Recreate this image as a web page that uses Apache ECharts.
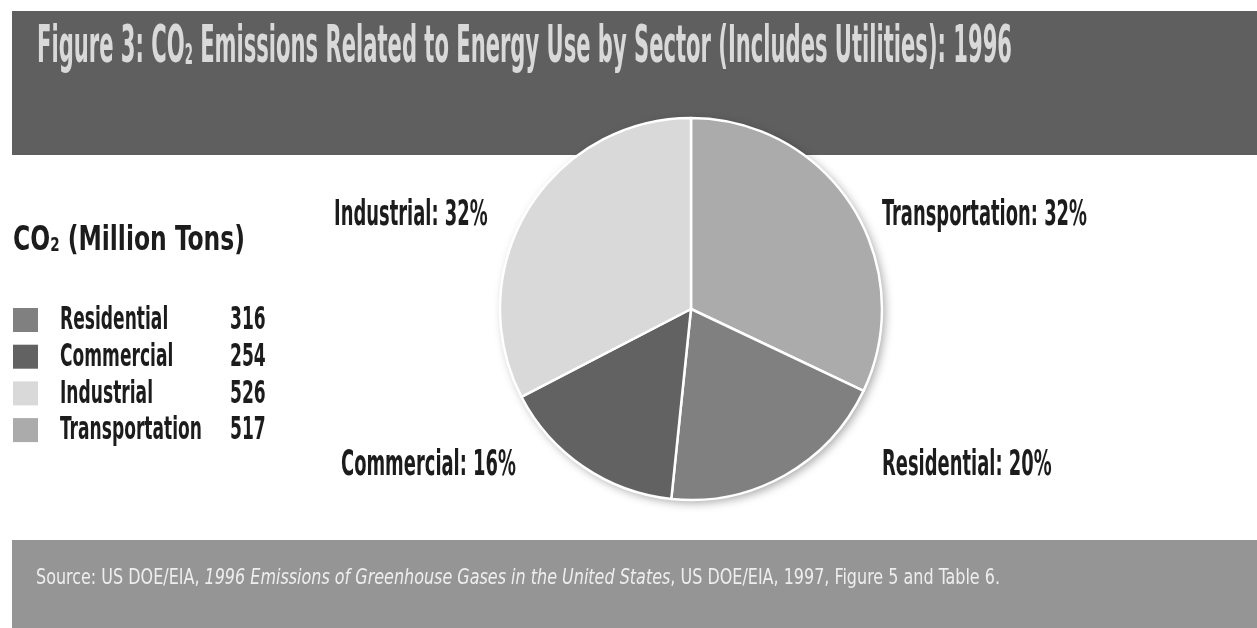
<!DOCTYPE html>
<html>
<head>
<meta charset="utf-8">
<title>CO2 Emissions by Sector, 1996</title>
<script src="https://cdn.jsdelivr.net/npm/echarts@6/dist/echarts.min.js"></script>
<style>
  html, body { margin: 0; padding: 0; background: #ffffff; }
  #chart { width: 1257px; height: 628px; }
</style>
</head>
<body>
<div id="chart"></div>
<script>
// Sector data (million tons of CO2, 1996)
const categories = ['Residential', 'Commercial', 'Industrial', 'Transportation'];
const emissions = [316, 254, 526, 517];
// Shares as printed on the slice labels
const statedShare = [20, 16, 32, 32];
const sliceColors = ['#808080', '#626262', '#d9d9d9', '#ababab'];
// Clockwise order of slices starting at 12 o'clock
const pieOrder = ['Transportation', 'Residential', 'Commercial', 'Industrial'];

const titleText = ['Figure 3: CO', '2', ' Emissions Related to Energy Use by Sector (Includes Utilities): 1996'];
const unitText = ['CO', '2', ' (Million Tons)'];
const sourceText = ['Source: US DOE/EIA, ', '1996 Emissions of Greenhouse Gases in the United States', ', US DOE/EIA, 1997, Figure 5 and Table 6.'];

const FAMILY = '"Liberation Sans Narrow", "DejaVu Sans Condensed", "Liberation Sans", sans-serif';
const measureCtx = document.createElement('canvas').getContext('2d');
function measure(str, font) { measureCtx.font = font; return measureCtx.measureText(str).width; }

// Builds one line of text from parts laid out on a shared baseline,
// squeezed horizontally (condensed type) to the requested width or scale.
function textLine(parts, o) {
  let cursor = 0;
  const children = [];
  parts.forEach(function (p) {
    const font = (p.italic ? 'italic ' : '') + (o.weight || 'bold') + ' ' + p.size + 'px ' + FAMILY;
    const w = measure(p.text, font);
    children.push({
      type: 'text', x: cursor, y: -0.35 * p.size, silent: true,
      style: { text: p.text, font: font, fill: o.fill, align: 'left', verticalAlign: 'middle' }
    });
    cursor += w;
  });
  const sx = o.width ? o.width / cursor : o.scale;
  return { type: 'group', x: o.x, y: o.baseline, scaleX: sx, scaleY: 1, children: children, _natural: cursor };
}

const graphics = [];
// Header band and source band
graphics.push({ type: 'rect', shape: { x: 12, y: 11, width: 1245, height: 144 }, style: { fill: '#5f5f5f' }, silent: true });
graphics.push({ type: 'rect', shape: { x: 12, y: 540, width: 1245, height: 88 }, style: { fill: '#959595' }, silent: true });

// Title
graphics.push(textLine([
  { text: titleText[0], size: 52 },
  { text: titleText[1], size: 29 },
  { text: titleText[2], size: 52 }
], { x: 37, baseline: 67, width: 975, fill: '#d9d9d9' }));

// Source line
graphics.push(textLine([
  { text: sourceText[0], size: 21 },
  { text: sourceText[1], size: 21, italic: true },
  { text: sourceText[2], size: 21 }
], { x: 36, baseline: 586, width: 964, fill: '#eeeeee', weight: 'normal' }));

// Unit heading of the value table
graphics.push(textLine([
  { text: unitText[0], size: 33 },
  { text: unitText[1], size: 19 },
  { text: unitText[2], size: 33 }
], { x: 13, baseline: 253, width: 232, fill: '#1c1c1c' }));

// Value table: colour key, sector name and tonnage
const rowFont = 'bold 32px ' + FAMILY;
const rowScale = 142 / measure('Transportation', rowFont);
categories.forEach(function (name, i) {
  const cy = 320 + i * 36.7;
  graphics.push({ type: 'rect', shape: { x: 13, y: cy - 12, width: 25, height: 24 }, style: { fill: sliceColors[i] }, silent: true });
  graphics.push(textLine([{ text: name, size: 32 }], { x: 60, baseline: cy + 12, scale: rowScale, fill: '#1c1c1c' }));
  graphics.push(textLine([{ text: String(emissions[i]), size: 32 }], { x: 230, baseline: cy + 12, scale: rowScale, fill: '#1c1c1c' }));
});

// Slice labels, placed in the quadrant of each slice's middle angle
const total = emissions.reduce(function (a, b) { return a + b; }, 0);
const labelFont = 'bold 36px ' + FAMILY;
const labelScale = 205 / measure('Transportation: 32%', labelFont);
let acc = 0;
pieOrder.forEach(function (name) {
  const i = categories.indexOf(name);
  const span = emissions[i] / total * 360;
  const mid = acc + span / 2;
  acc += span;
  const right = mid < 180;
  const upper = mid < 90 || mid > 270;
  const x = right ? 882 : (upper ? 334 : 341);
  const baseline = upper ? 228 : 478;
  graphics.push(textLine([{ text: name + ': ' + statedShare[i] + '%', size: 36 }],
    { x: x, baseline: baseline, scale: labelScale, fill: '#1c1c1c' }));
});

const pieData = pieOrder.map(function (name) {
  const i = categories.indexOf(name);
  return { name: name, value: emissions[i], itemStyle: { color: sliceColors[i] } };
});

const chart = echarts.init(document.getElementById('chart'), null, { renderer: 'canvas' });
chart.setOption({
  backgroundColor: '#ffffff',
  animation: false,
  graphic: graphics,
  series: [
    {
      // soft drop shadow beneath the pie
      type: 'pie', silent: true, z: 1,
      center: [691, 309], radius: 191,
      label: { show: false }, labelLine: { show: false },
      emphasis: { disabled: true },
      data: [{ value: 1, itemStyle: { color: '#ffffff', shadowBlur: 10, shadowOffsetX: 3, shadowOffsetY: 3, shadowColor: 'rgba(0,0,0,0.35)' } }]
    },
    {
      type: 'pie', z: 2,
      center: [691, 309], radius: 191,
      startAngle: 90, clockwise: true,
      label: { show: false }, labelLine: { show: false },
      emphasis: { disabled: true },
      itemStyle: { borderColor: '#ffffff', borderWidth: 2.5 },
      data: pieData
    }
  ]
});
</script>
</body>
</html>
